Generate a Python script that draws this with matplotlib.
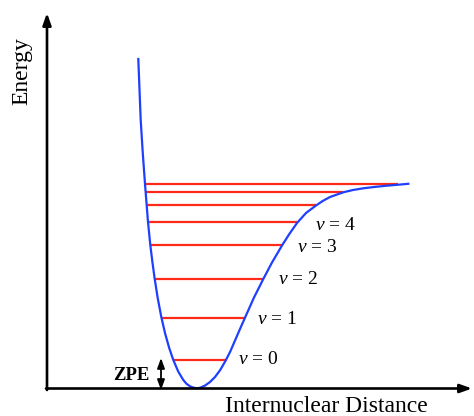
import matplotlib
matplotlib.use("Agg")
import matplotlib.pyplot as plt

plt.rcParams["font.family"] = ["Liberation Serif", "DejaVu Serif"]
plt.rcParams["mathtext.fontset"] = "custom"
plt.rcParams["mathtext.it"] = "Liberation Serif:italic"
plt.rcParams["mathtext.rm"] = "Liberation Serif"

# potential energy curve (pixel-like units, y grows downward)
curve_x = [138.3, 140.7, 142.7, 145, 146.5, 148, 150.3, 152.4, 154.7, 157.7,
           161.3, 165, 169.2, 173.3, 178.3, 183.3, 186.5, 190, 193.5, 196.7,
           200, 205, 210, 215, 220, 225.7, 230.5, 235, 240, 245, 254, 263.3,
           272, 282, 289, 297, 306, 316, 323, 330, 343.3, 353, 363.3, 375,
           386.7, 398.3, 408.3]
curve_y = [59, 120, 152, 184, 203, 222, 245, 262, 279, 298,
           317, 333, 348, 360, 371.7, 380, 383.8, 386.3, 387.7, 388.2,
           387.8, 385.6, 382, 377, 370.3, 360.5, 351, 340.5, 329, 317.7, 297.5, 279,
           262.5, 245.5, 234.5, 223, 213, 205.5, 200.8, 197, 192.3, 190, 188.3, 186.9,
           185.7, 184.7, 183.8]

# vibrational levels
level_y = [360, 318, 279, 245, 222, 205, 192, 184]
level_left = [173, 162, 155, 150, 148, 146, 145, 145]
level_right = [226, 245, 263, 282, 297, 316, 343, 398]

# v = n labels
label_text = ["0", "1", "2", "3", "4"]
label_x = [238, 257, 278, 297, 315]
label_y = [360, 320, 280, 248, 226]

fig = plt.figure(figsize=(4.74, 4.16), dpi=100)
ax = fig.add_axes([0, 0, 1, 1])
ax.set_xlim(0, 474)
ax.set_ylim(416, 0)
ax.axis("off")

# axes with arrows
ax.annotate("", xy=(47, 13), xytext=(47, 390),
            arrowprops=dict(arrowstyle="-|>,head_length=0.7,head_width=0.25",
                            color="black", lw=1.9, shrinkA=0, shrinkB=0))
ax.annotate("", xy=(472, 388.5), xytext=(46, 388.5),
            arrowprops=dict(arrowstyle="-|>,head_length=0.7,head_width=0.25",
                            color="black", lw=1.9, shrinkA=0, shrinkB=0))

for y, x0, x1 in zip(level_y, level_left, level_right):
    ax.plot([x0, x1], [y, y], color="#ff2a1a", lw=1.6, solid_capstyle="butt")

ax.plot(curve_x, curve_y, color="#1f3fff", lw=1.6)

for t, x, y in zip(label_text, label_x, label_y):
    ax.text(x, y, r"$v$ = " + t, fontsize=14, ha="left", va="center")

# zero point energy
ax.annotate("", xy=(161, 358), xytext=(161, 390),
            arrowprops=dict(arrowstyle="<|-|>,head_length=0.6,head_width=0.22",
                            color="black", lw=1.3, shrinkA=0, shrinkB=0))
ax.text(150, 375, "ZPE", fontsize=13.5, fontweight="bold", ha="right", va="center")

ax.text(22, 71, "Energy", fontsize=17, rotation=90, ha="center", va="center")
ax.text(326, 406, "Internuclear Distance", fontsize=17, ha="center", va="center")

fig.savefig("out.png", dpi=100)
